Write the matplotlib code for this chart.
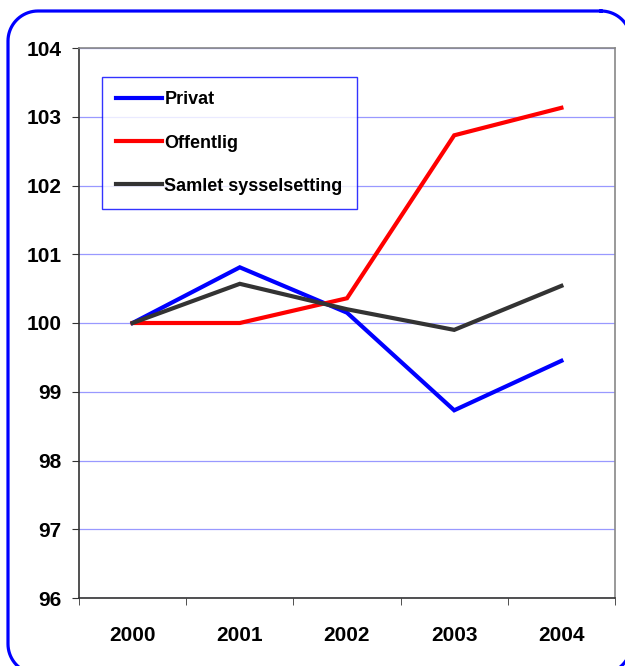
import matplotlib
matplotlib.use("Agg")
import matplotlib.pyplot as plt
import numpy as np

years = ["2000", "2001", "2002", "2003", "2004"]
privat = [100.0, 100.81, 100.15, 98.73, 99.45]
offentlig = [100.0, 100.0, 100.36, 102.73, 103.13]
samlet = [100.0, 100.57, 100.2, 99.9, 100.54]
yticks = [96, 97, 98, 99, 100, 101, 102, 103, 104]

plt.rcParams['font.family'] = ['Liberation Sans', 'DejaVu Sans']

W, H = 625, 666
fig = plt.figure(figsize=(W / 100, H / 100), dpi=100)

# decorative rounded border, drawn in pixel coordinates (y down)
bg = fig.add_axes([0, 0, 1, 1])
bg.set_xlim(0, W)
bg.set_ylim(H, 0)
bg.axis("off")
left, top, right, bottom, r = 8, 11, 631, 674, 30
pts = []
corners = [((right - r, top + r), -90, 0), ((right - r, bottom - r), 0, 90),
           ((left + r, bottom - r), 90, 180), ((left + r, top + r), 180, 270)]
for (cx, cy), a0, a1 in corners:
    t = np.radians(np.linspace(a0, a1, 20))
    pts += list(zip(cx + r * np.cos(t), cy + r * np.sin(t)))
pts.append(pts[0])
px, py = zip(*pts)
bg.plot(px, py, color="#0000FF", lw=2.3, clip_on=False)

ax = fig.add_axes([79 / W, (H - 598) / H, (615 - 79) / W, (598 - 48) / H])
x = list(range(len(years)))
ax.plot(x, privat, color="#0000FF", lw=3, label="Privat", solid_joinstyle="miter")
ax.plot(x, offentlig, color="#FF0000", lw=3, label="Offentlig", solid_joinstyle="miter")
ax.plot(x, samlet, color="#333333", lw=3, label="Samlet sysselsetting", solid_joinstyle="miter")

ax.set_xlim(-0.5, 4.5)
ax.set_ylim(96, 104)
ax.set_yticks(yticks)
ax.set_yticklabels([str(v) for v in yticks], fontsize=15, fontweight="bold")
ax.set_xticks(x)
ax.set_xticklabels(years, fontsize=15, fontweight="bold")
ax.tick_params(axis="x", length=0, pad=20)
ax.set_xticks([i - 0.5 for i in range(len(years) + 1)], minor=True)
ax.tick_params(axis="x", which="minor", length=5, direction="out", color="#333333")
ax.tick_params(axis="y", length=5, direction="out", color="#333333", pad=7.5)
ax.yaxis.grid(True, color="#9999FF", lw=0.9)
ax.set_axisbelow(True)
for s in ["left", "bottom"]:
    ax.spines[s].set_color("#333333")
    ax.spines[s].set_linewidth(1.2)
for s in ["top", "right"]:
    ax.spines[s].set_color("#888888")
    ax.spines[s].set_linewidth(1.2)

leg = ax.legend(loc="upper left", bbox_to_anchor=((102 - 79) / 536, (598 - 77) / 550),
                frameon=True, fancybox=False, edgecolor="#0000FF",
                prop={"size": 13, "weight": "bold"}, handlelength=2.5,
                handletextpad=0.15, labelspacing=1.45, borderpad=0.8, borderaxespad=0)
leg.get_frame().set_linewidth(1.0)

fig.savefig("out.png", dpi=100)
